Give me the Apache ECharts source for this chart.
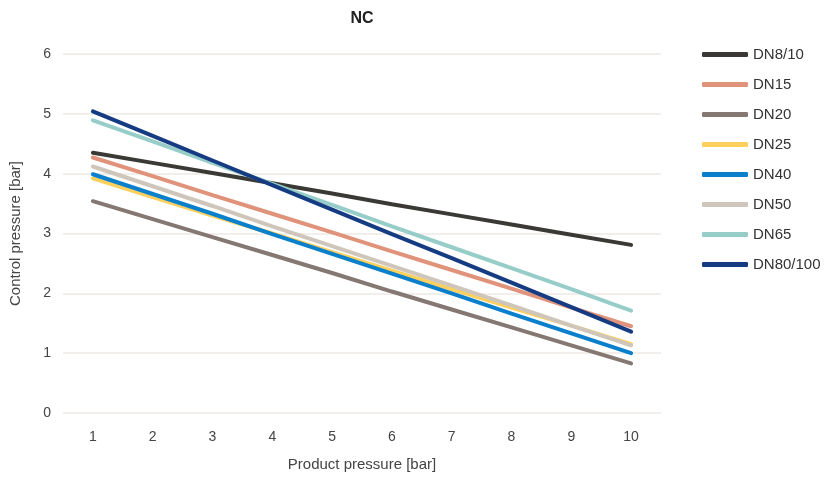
<!DOCTYPE html>
<html>
<head>
<meta charset="utf-8">
<script src="https://cdn.jsdelivr.net/npm/echarts@6/dist/echarts.min.js"></script>
<style>
  html, body { margin: 0; padding: 0; background: #fff; }
  #chart { width: 824px; height: 477px; }
</style>
</head>
<body>
<div id="chart"></div>
<script>
// product pressure [bar]
var pressures = ['1', '2', '3', '4', '5', '6', '7', '8', '9', '10'];

// control pressure [bar], one list per valve size
var dn8_10 = [4.35, 4.18, 4.01, 3.84, 3.67, 3.49, 3.32, 3.15, 2.98, 2.81];
var dn15 = [4.27, 3.96, 3.64, 3.33, 3.02, 2.70, 2.39, 2.08, 1.76, 1.45];
var dn20 = [3.54, 3.24, 2.94, 2.64, 2.34, 2.03, 1.73, 1.43, 1.13, 0.83];
var dn25 = [3.92, 3.61, 3.30, 3.00, 2.69, 2.38, 2.07, 1.76, 1.46, 1.15];
var dn40 = [3.99, 3.66, 3.33, 2.99, 2.66, 2.33, 2.00, 1.66, 1.33, 1.00];
var dn50 = [4.12, 3.79, 3.46, 3.12, 2.79, 2.46, 2.13, 1.80, 1.46, 1.13];
var dn65 = [4.89, 4.54, 4.18, 3.83, 3.48, 3.12, 2.77, 2.42, 2.07, 1.71];
var dn80_100 = [5.04, 4.63, 4.22, 3.81, 3.40, 2.99, 2.59, 2.18, 1.77, 1.36];

var names = ['DN8/10', 'DN15', 'DN20', 'DN25', 'DN40', 'DN50', 'DN65', 'DN80/100'];
var values = [dn8_10, dn15, dn20, dn25, dn40, dn50, dn65, dn80_100];
var colors = ['#3a3935', '#e0937a', '#857872', '#fdd05e', '#0a7fcb', '#cfc6bb', '#97cdc9', '#153c82'];

var font = 'Liberation Sans, Arial, sans-serif';

var series = names.map(function (n, i) {
  return {
    name: n,
    type: 'line',
    data: values[i],
    symbol: 'none',
    color: colors[i],
    lineStyle: { width: 4, color: colors[i], cap: 'round' },
    emphasis: { disabled: true }
  };
});

var chart = echarts.init(document.getElementById('chart'));
var option = {
  animation: false,
  textStyle: { fontFamily: font },
  title: {
    text: 'NC',
    left: 357,
    top: 6,
    textAlign: 'center',
    textStyle: { fontSize: 16, fontWeight: 'bold', color: '#222', fontFamily: font }
  },
  legend: {
    orient: 'vertical',
    left: 697,
    top: 42,
    icon: 'roundRect',
    itemWidth: 46,
    itemHeight: 5,
    itemGap: 15,
    itemStyle: { borderWidth: 0 },
    textStyle: { fontSize: 15, color: '#333', fontFamily: font, lineHeight: 14 },
    data: names
  },
  grid: {
    left: 62,
    right: 163,
    top: 54,
    bottom: 62
  },
  xAxis: {
    type: 'category',
    data: pressures,
    boundaryGap: true,
    name: 'Product pressure [bar]',
    nameLocation: 'middle',
    nameGap: 44,
    nameTextStyle: { fontSize: 15, color: '#444' },
    axisLine: { show: false },
    axisTick: { show: false },
    axisLabel: { fontSize: 14, color: '#444', margin: 17 }
  },
  yAxis: {
    type: 'value',
    min: 0,
    max: 6,
    interval: 1,
    name: 'Control pressure [bar]',
    nameLocation: 'middle',
    nameGap: 40,
    nameTextStyle: { fontSize: 15, color: '#444' },
    axisLine: { show: false },
    axisTick: { show: false },
    axisLabel: { fontSize: 14, color: '#444', margin: 12 },
    splitLine: { lineStyle: { color: '#ece8e5', width: 1.5 } }
  },
  series: series
};
chart.setOption(option);
</script>
</body>
</html>
